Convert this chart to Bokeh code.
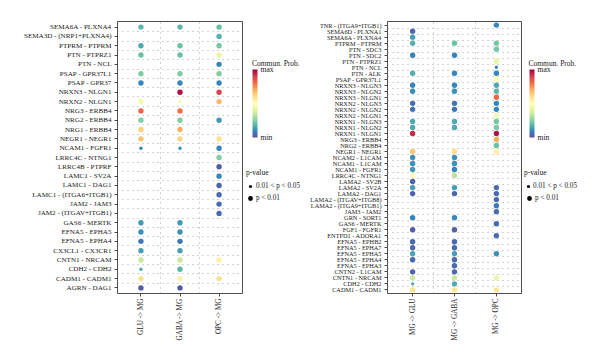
import numpy as np
from bokeh.plotting import figure
from bokeh.models import (ColumnDataSource, LinearColorMapper, ColorBar, FixedTicker,
                          Range1d, Legend, LegendItem, Label)
from bokeh.palettes import Spectral11
from bokeh.layouts import row
from bokeh.embed import file_html
from bokeh.resources import INLINE

# ---------------- data ----------------
left_cols = ["GLU -> MG", "GABA -> MG", "OPC -> MG"]
left_rows = ["SEMA6A - PLXNA4", "SEMA3D - (NRP1+PLXNA4)", "PTPRM - PTPRM", "PTN - PTPRZ1",
             "PTN - NCL", "PSAP - GPR37L1", "PSAP - GPR37", "NRXN3 - NLGN1", "NRXN2 - NLGN1",
             "NRG3 - ERBB4", "NRG2 - ERBB4", "NRG1 - ERBB4", "NEGR1 - NEGR1", "NCAM1 - FGFR1",
             "LRRC4C - NTNG1", "LRRC4B - PTPRF", "LAMC1 - SV2A", "LAMC1 - DAG1",
             "LAMC1 - (ITGA6+ITGB1)", "JAM2 - JAM3", "JAM2 - (ITGAV+ITGB1)", "GAS6 - MERTK",
             "EFNA5 - EPHA5", "EFNA5 - EPHA4", "CX3CL1 - CX3CR1", "CNTN1 - NRCAM",
             "CDH2 - CDH2", "CADM1 - CADM1", "AGRN - DAG1"]
left_glu = [0.18, None, 0.16, 0.20, None, 0.24, 0.10, None, 0.45, 0.82, 0.24, 0.63, 0.66, 0.10,
            None, None, None, None, None, None, None, 0.13, 0.12, 0.07, 0.14, 0.35, 0.16, 0.60, 0.02]
left_gaba = [0.18, None, 0.20, 0.20, None, 0.24, 0.10, 0.97, 0.45, 0.80, 0.24, 0.70, 0.62, 0.10,
             None, None, None, None, None, None, None, 0.13, 0.12, 0.07, 0.14, 0.35, 0.18, 0.55, 0.02]
left_opc = [0.20, 0.17, 0.22, 0.42, 0.10, 0.24, 0.10, 0.88, 0.68, None, 0.13, None, 0.60, 0.10,
            0.24, 0.02, 0.10, 0.04, 0.05, 0.05, 0.05, None, None, None, None, 0.55, None, 0.60, None]
# pairs with 0.01 < p < 0.05 (all others p < 0.01)
left_small = [("NRXN2 - NLGN1", "GABA -> MG"), ("NCAM1 - FGFR1", "GLU -> MG"),
              ("NCAM1 - FGFR1", "GABA -> MG"), ("CDH2 - CDH2", "GLU -> MG")]

right_cols = ["MG -> GLU", "MG -> GABA", "MG -> OPC"]
right_rows = ["TNR - (ITGA9+ITGB1)", "SEMA6D - PLXNA1", "SEMA6A - PLXNA4", "PTPRM - PTPRM",
              "PTN - SDC3", "PTN - SDC2", "PTN - PTPRZ1", "PTN - NCL", "PTN - ALK",
              "PSAP - GPR37L1", "NRXN3 - NLGN3", "NRXN3 - NLGN2", "NRXN3 - NLGN1",
              "NRXN2 - NLGN3", "NRXN2 - NLGN2", "NRXN2 - NLGN1", "NRXN1 - NLGN3",
              "NRXN1 - NLGN2", "NRXN1 - NLGN1", "NRG3 - ERBB4", "NRG2 - ERBB4", "NEGR1 - NEGR1",
              "NCAM2 - L1CAM", "NCAM1 - L1CAM", "NCAM1 - FGFR1", "LRRC4C - NTNG1",
              "LAMA2 - SV2B", "LAMA2 - SV2A", "LAMA2 - DAG1", "LAMA2 - (ITGAV+ITGB8)",
              "LAMA2 - (ITGA9+ITGB1)", "JAM3 - JAM2", "GRN - SORT1", "GAS6 - MERTK",
              "FGF1 - FGFR1", "ENTPD1 - ADORA1", "EFNA5 - EPHB2", "EFNA5 - EPHA7",
              "EFNA5 - EPHA5", "EFNA5 - EPHA4", "EFNA5 - EPHA3", "CNTN2 - L1CAM",
              "CNTN1 - NRCAM", "CDH2 - CDH2", "CADM1 - CADM1"]
right_glu = [None, 0.04, 0.14, 0.17, None, 0.10, None, None, 0.17, None,
             0.10, 0.12, None, 0.06, 0.07, None, 0.16, 0.16, 0.93, None,
             None, 0.65, 0.12, 0.12, 0.13, 0.50, 0.04, 0.14, 0.04, None,
             None, None, 0.10, None, 0.03, None, 0.05, 0.05, 0.15, 0.05,
             None, 0.03, 0.35, 0.16, 0.58]
right_gaba = [None, None, None, 0.20, None, 0.10, None, None, 0.10, None,
              0.10, 0.12, None, 0.06, 0.07, None, 0.16, 0.16, None, None,
              None, 0.60, 0.12, 0.12, 0.10, 0.33, None, 0.14, 0.04, None,
              None, None, 0.10, None, 0.03, None, 0.05, 0.05, 0.14, 0.05,
              0.05, 0.04, 0.35, 0.16, 0.58]
right_opc = [0.10, None, None, 0.22, 0.22, None, 0.42, 0.10, 0.10, 0.48,
             0.16, 0.18, 0.82, 0.10, 0.10, 0.45, 0.22, 0.23, 0.97, 0.70,
             0.20, 0.55, None, None, None, None, None, 0.05, 0.05, 0.05,
             0.08, 0.05, None, 0.05, None, 0.05, None, None, 0.12, None,
             None, None, 0.42, None, 0.58]
right_small = [("PTN - NCL", "MG -> OPC"), ("CDH2 - CDH2", "MG -> GLU")]

pval_title = "p-value"
pval_labels = ["0.01 < p < 0.05", "p < 0.01"]
cbar_title = "Commun. Prob."
cbar_labels = ["min", "max"]

# ---------------- style ----------------
FONT = "Liberation Serif"
BIG = 5.4
SMALL = 3.4
EDGE = "#4d4d4d"
H = 363          # canvas height
TOP = 21         # frame top (px)
BOTTOM = 293     # frame bottom (px)


def interp_pal(pal, n=256):
    rgb = np.array([[int(c[i:i + 2], 16) for i in (1, 3, 5)] for c in pal], float)
    t = np.linspace(0, 1, len(pal))
    tt = np.linspace(0, 1, n)
    return ["#%02x%02x%02x" % tuple(int(round(np.interp(v, t, rgb[:, k]))) for k in range(3))
            for v in tt]


PALETTE = interp_pal(list(Spectral11))
MAPPER = LinearColorMapper(palette=PALETTE, low=0, high=1)


def make_panel(rows, cols, vals, small, width, mb_left, ylab_size):
    n = len(rows)
    small_set = set(small)
    xs, ys, ps, ss = [], [], [], []
    for j, col in enumerate(cols):
        for i, r in enumerate(rows):
            v = vals[j][i]
            if v is None:
                continue
            xs.append(j)
            ys.append(n - 1 - i)
            ps.append(v)
            ss.append(SMALL if (r, col) in small_set else BIG)
    src = ColumnDataSource(dict(x=xs, y=ys, prob=ps, size=ss))

    p = figure(width=width, height=H, output_backend="svg", toolbar_location=None,
               x_range=Range1d(-0.6, len(cols) - 0.4), y_range=Range1d(-0.6, n - 0.4),
               min_border_left=mb_left, min_border_right=2,
               min_border_top=TOP, min_border_bottom=H - BOTTOM)
    p.background_fill_color = "white"
    p.border_fill_color = "white"
    p.outline_line_color = EDGE
    p.outline_line_width = 1

    p.ygrid.ticker = FixedTicker(ticks=[i + 0.5 for i in range(n - 1)])
    p.xgrid.ticker = FixedTicker(ticks=[j + 0.5 for j in range(len(cols) - 1)])
    p.grid.grid_line_color = "#a8a8a8"
    p.grid.grid_line_width = 1
    p.grid.grid_line_dash = "1 4"

    p.yaxis.ticker = FixedTicker(ticks=list(range(n)))
    p.yaxis.major_label_overrides = {n - 1 - i: r for i, r in enumerate(rows)}
    p.xaxis.ticker = FixedTicker(ticks=list(range(len(cols))))
    p.xaxis.major_label_overrides = {j: c for j, c in enumerate(cols)}
    p.xaxis.major_label_orientation = np.pi / 2
    for ax in (p.xaxis, p.yaxis):
        ax.axis_line_color = None
        ax.major_tick_line_color = EDGE
        ax.major_tick_out = 3
        ax.major_tick_in = 0
        ax.minor_tick_line_color = None
        ax.major_label_text_font = FONT
        ax.major_label_text_color = "#1a1a1a"
    p.yaxis.major_label_text_font_size = ylab_size
    p.yaxis.major_label_standoff = 3
    p.xaxis.major_label_text_font_size = "7.2px"
    p.xaxis.major_label_standoff = 2

    p.scatter("x", "y", size="size", source=src,
              fill_color={"field": "prob", "transform": MAPPER}, line_color=None)
    return p


def make_legend(width, cb_x, title_x, legA_x, legB_x, standoffA):
    q = figure(width=width, height=H, output_backend="svg", toolbar_location=None,
               x_range=Range1d(0, 1), y_range=Range1d(0, 1),
               x_axis_location=None, y_axis_location=None,
               min_border_left=0, min_border_right=0,
               min_border_top=TOP, min_border_bottom=H - BOTTOM)
    q.outline_line_color = None
    q.grid.visible = False
    q.background_fill_color = "white"
    q.border_fill_color = "white"

    cb = ColorBar(color_mapper=MAPPER, ticker=FixedTicker(ticks=[0, 1]),
                  major_label_overrides={0: cbar_labels[0], 1: cbar_labels[1]},
                  width=5, height=68, padding=0, margin=0,
                  label_standoff=3, major_tick_line_color=None, bar_line_color=None,
                  border_line_color=None, background_fill_alpha=0,
                  major_label_text_font=FONT, major_label_text_font_size="7.6px",
                  major_label_text_color="#1a1a1a",
                  location=(cb_x, BOTTOM - 137))
    q.add_layout(cb)
    q.add_layout(Label(x=title_x, y=BOTTOM - 63, x_units="screen", y_units="screen",
                       text=cbar_title, text_font=FONT, text_font_size="7.5px",
                       text_baseline="middle", text_align="left", text_color="#1a1a1a"))

    nan = float("nan")
    rA = q.scatter(x=[nan], y=[nan], size=SMALL, fill_color="black", line_color=None)
    rB = q.scatter(x=[nan], y=[nan], size=BIG, fill_color="black", line_color=None)
    common = dict(padding=0, margin=0, spacing=0, border_line_color=None,
                  background_fill_alpha=0, label_text_font=FONT, label_text_font_size="7.2px",
                  label_text_color="#1a1a1a", label_height=8, label_width=10)
    legA = Legend(items=[LegendItem(label=pval_labels[0], renderers=[rA], index=0)],
                  title=pval_title,
                  title_text_font=FONT, title_text_font_size="7.5px",
                  title_text_font_style="normal", title_text_color="#1a1a1a", title_standoff=5,
                  glyph_width=8, glyph_height=8, label_standoff=standoffA,
                  location=(legA_x, BOTTOM - 189.5), **common)
    legB = Legend(items=[LegendItem(label=pval_labels[1], renderers=[rB], index=0)],
                  glyph_width=12, glyph_height=12, label_standoff=0,
                  location=(legB_x, BOTTOM - 204.3), **common)
    q.add_layout(legA)
    q.add_layout(legB)
    return q


# page x: left panel 0..244, legend 244..304 ; right panel 304..523, legend 523..600
p_left = make_panel(left_rows, left_cols, [left_glu, left_gaba, left_opc], left_small,
                    width=244, mb_left=117, ylab_size="7.1px")
l_left = make_legend(60, cb_x=8, title_x=7.5, legA_x=2, legB_x=0, standoffA=2)
p_right = make_panel(right_rows, right_cols, [right_glu, right_gaba, right_opc], right_small,
                     width=219, mb_left=83, ylab_size="6.3px")
l_right = make_legend(77, cb_x=6, title_x=5, legA_x=1, legB_x=0, standoffA=1)

layout = row(p_left, l_left, p_right, l_right)
open("out.html", "w").write(file_html(layout, INLINE))
